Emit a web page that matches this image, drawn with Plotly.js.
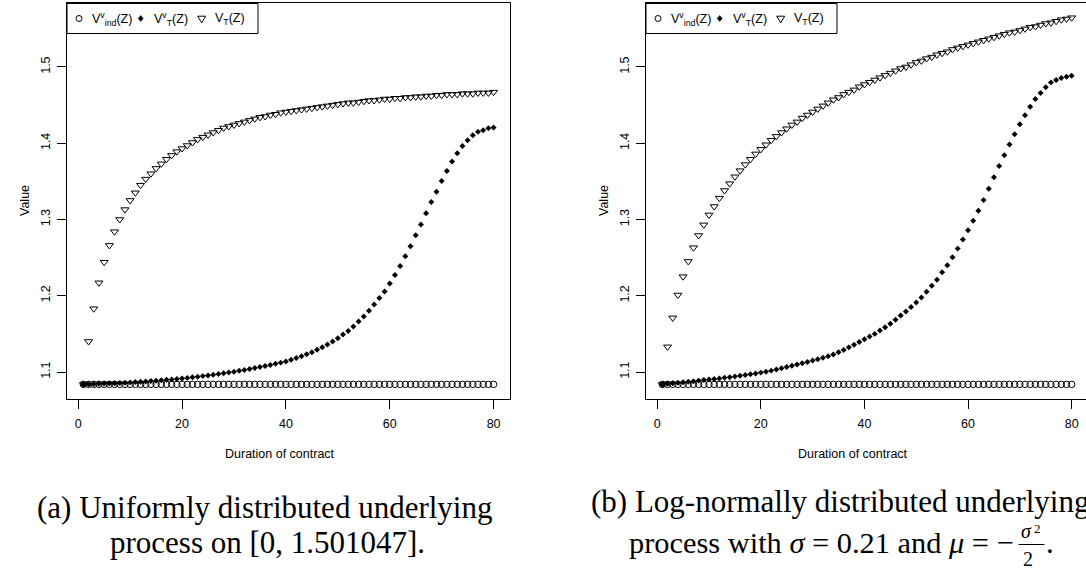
<!DOCTYPE html>
<html>
<head>
<meta charset="utf-8">
<script src="https://cdn.plot.ly/plotly-3.0.1.min.js"></script>
<style>
html, body { margin: 0; padding: 0; background: #ffffff; }
#chart { width: 1086px; height: 569px; }
</style>
</head>
<body>
<div id="chart"></div>
<script>
// ---------------- data ----------------
const durations = [1,2,3,4,5,6,7,8,9,10,11,12,13,14,15,16,17,18,19,20,
  21,22,23,24,25,26,27,28,29,30,31,32,33,34,35,36,37,38,39,40,
  41,42,43,44,45,46,47,48,49,50,51,52,53,54,55,56,57,58,59,60,
  61,62,63,64,65,66,67,68,69,70,71,72,73,74,75,76,77,78,79,80];

// (a) uniformly distributed underlying process
const uniformVind = [1.0838,1.0838,1.0838,1.0838,1.0838,1.0838,1.0838,1.0838,1.0838,1.0838,
  1.0838,1.0838,1.0838,1.0838,1.0838,1.0838,1.0838,1.0838,1.0838,1.0838,
  1.0838,1.0838,1.0838,1.0838,1.0838,1.0838,1.0838,1.0838,1.0838,1.0838,
  1.0838,1.0838,1.0838,1.0838,1.0838,1.0838,1.0838,1.0838,1.0838,1.0838,
  1.0838,1.0838,1.0838,1.0838,1.0838,1.0838,1.0838,1.0838,1.0838,1.0838,
  1.0838,1.0838,1.0838,1.0838,1.0838,1.0838,1.0838,1.0838,1.0838,1.0838,
  1.0838,1.0838,1.0838,1.0838,1.0838,1.0838,1.0838,1.0838,1.0838,1.0838,
  1.0838,1.0838,1.0838,1.0838,1.0838,1.0838,1.0838,1.0838,1.0838,1.0838];
const uniformVTv = [1.0838,1.0840,1.0842,1.0845,1.0848,1.0851,1.0854,1.0857,1.0860,1.0864,
  1.0868,1.0872,1.0876,1.0881,1.0886,1.0891,1.0897,1.0903,1.0909,1.0916,
  1.0923,1.0930,1.0938,1.0946,1.0955,1.0964,1.0973,1.0983,1.0993,1.1004,
  1.1015,1.1027,1.1039,1.1052,1.1065,1.1079,1.1093,1.1108,1.1123,1.1139,
  1.1160,1.1183,1.1207,1.1232,1.1259,1.1291,1.1325,1.1361,1.1400,1.1443,
  1.1491,1.1539,1.1596,1.1662,1.1728,1.1803,1.1886,1.1969,1.2057,1.2162,
  1.2272,1.2390,1.2518,1.2649,1.2794,1.2934,1.3083,1.3228,1.3364,1.3504,
  1.3636,1.3759,1.3868,1.3965,1.4039,1.4105,1.4149,1.4171,1.4197,1.4206];
const uniformVT = [1.0838,1.140,1.183,1.217,1.244,1.266,1.284,1.300,1.313,1.325,
  1.335,1.345,1.353,1.360,1.367,1.373,1.379,1.384,1.389,1.393,
  1.397,1.401,1.405,1.408,1.411,1.414,1.417,1.420,1.422,1.424,
  1.426,1.428,1.430,1.432,1.434,1.435,1.437,1.438,1.440,1.441,
  1.442,1.443,1.444,1.445,1.446,1.447,1.448,1.449,1.450,1.451,
  1.452,1.453,1.453,1.454,1.455,1.456,1.456,1.457,1.458,1.458,
  1.459,1.459,1.460,1.460,1.461,1.461,1.462,1.462,1.463,1.463,
  1.464,1.464,1.464,1.465,1.465,1.465,1.466,1.466,1.466,1.467];

// (b) log-normally distributed underlying process
const lognormVind = [1.0838,1.0838,1.0838,1.0838,1.0838,1.0838,1.0838,1.0838,1.0838,1.0838,
  1.0838,1.0838,1.0838,1.0838,1.0838,1.0838,1.0838,1.0838,1.0838,1.0838,
  1.0838,1.0838,1.0838,1.0838,1.0838,1.0838,1.0838,1.0838,1.0838,1.0838,
  1.0838,1.0838,1.0838,1.0838,1.0838,1.0838,1.0838,1.0838,1.0838,1.0838,
  1.0838,1.0838,1.0838,1.0838,1.0838,1.0838,1.0838,1.0838,1.0838,1.0838,
  1.0838,1.0838,1.0838,1.0838,1.0838,1.0838,1.0838,1.0838,1.0838,1.0838,
  1.0838,1.0838,1.0838,1.0838,1.0838,1.0838,1.0838,1.0838,1.0838,1.0838,
  1.0838,1.0838,1.0838,1.0838,1.0838,1.0838,1.0838,1.0838,1.0838,1.0838];
const lognormVTv = [1.0838,1.0845,1.0852,1.0859,1.0866,1.0873,1.0880,1.0887,1.0894,1.0901,
  1.0908,1.0916,1.0924,1.0932,1.0941,1.0950,1.0960,1.0970,1.0981,1.0992,
  1.1003,1.1018,1.1033,1.1049,1.1065,1.1081,1.1098,1.1115,1.1132,1.1150,
  1.1168,1.1187,1.1206,1.1230,1.1258,1.1290,1.1323,1.1358,1.1394,1.1431,
  1.1466,1.1500,1.1543,1.1588,1.1632,1.1684,1.1741,1.1793,1.1851,1.1912,
  1.1978,1.2053,1.2132,1.2211,1.2307,1.2399,1.2504,1.2618,1.2737,1.2859,
  1.2983,1.3114,1.3254,1.3404,1.3553,1.3701,1.3842,1.3983,1.4118,1.4250,
  1.4368,1.4478,1.4579,1.4658,1.4733,1.4798,1.4829,1.4855,1.4873,1.4886];
const lognormVT = [1.0838,1.133,1.171,1.201,1.225,1.245,1.263,1.279,1.293,1.306,
  1.317,1.328,1.338,1.347,1.356,1.364,1.372,1.379,1.386,1.392,
  1.398,1.404,1.409,1.414,1.419,1.424,1.428,1.433,1.437,1.441,
  1.445,1.449,1.453,1.457,1.460,1.464,1.467,1.470,1.474,1.477,
  1.480,1.483,1.486,1.489,1.492,1.495,1.498,1.500,1.503,1.506,
  1.508,1.511,1.513,1.516,1.518,1.520,1.523,1.525,1.527,1.529,
  1.531,1.533,1.535,1.537,1.539,1.541,1.543,1.545,1.546,1.548,
  1.550,1.552,1.553,1.555,1.557,1.558,1.560,1.562,1.563,1.5646];

const xTickVals = [0, 20, 40, 60, 80];
const xTickText = ['0', '20', '40', '60', '80'];
const yTickVals = [1.1, 1.2, 1.3, 1.4, 1.5];
const yTickText = ['1.1', '1.2', '1.3', '1.4', '1.5'];
const seriesNames = ['V<sup>v</sup><sub>ind</sub>(Z)', 'V<sup>v</sup><sub>T</sub>(Z)', 'V<sub>T</sub>(Z)'];
const xTitle = 'Duration of contract';
const yTitle = 'Value';
const captionA = ['(a) Uniformly distributed underlying', 'process on [0, 1.501047].'];
const captionB = ['(b) Log-normally distributed underlying', 'process with <i>σ</i> = 0.21 and <i>μ</i> = −'];
const fractionNum = '<i>σ</i>';
const fractionNumPower = '2';
const fractionDen = '2';

// ---------------- layout helpers ----------------
const W = 1086, H = 569;
const fx = p => p / W;          // pixel x -> paper
const fy = p => 1 - p / H;      // pixel y -> paper
const black = '#000000';
const sansFont = 'Liberation Sans, Arial, Helvetica, sans-serif';
const serifFont = 'Liberation Serif, Times New Roman, serif';

const circleStyle = { symbol: 'circle-open', size: 6.5, color: black, line: { color: black, width: 1 } };
const diamondStyle = { symbol: 'diamond', size: 4.6, color: black, line: { color: black, width: 0 } };
const triangleStyle = { symbol: 'triangle-down-open', size: 7, color: black, line: { color: black, width: 1 } };

function panelTraces(vind, vtv, vt, xa, ya) {
  return [
    { x: durations, y: vind, type: 'scatter', mode: 'markers', name: seriesNames[0], xaxis: xa, yaxis: ya, marker: circleStyle, showlegend: false },
    { x: durations, y: vtv, type: 'scatter', mode: 'markers', name: seriesNames[1], xaxis: xa, yaxis: ya, marker: diamondStyle, showlegend: false },
    { x: durations, y: vt, type: 'scatter', mode: 'markers', name: seriesNames[2], xaxis: xa, yaxis: ya, marker: triangleStyle, showlegend: false }
  ];
}

const data = [].concat(
  panelTraces(uniformVind, uniformVTv, uniformVT, 'x', 'y'),
  panelTraces(lognormVind, lognormVTv, lognormVT, 'x2', 'y2')
);

const commonX = {
  tickmode: 'array', tickvals: xTickVals, ticktext: xTickText,
  ticks: 'outside', ticklen: 9, tickwidth: 1, tickcolor: black,
  showline: true, linecolor: black, linewidth: 1,
  showgrid: false, zeroline: false,
  tickfont: { family: sansFont, size: 12.5, color: black },
  ticklabelstandoff: 4, fixedrange: true
};
const commonY = {
  tickmode: 'array', tickvals: yTickVals, ticktext: yTickText, tickangle: -90,
  ticks: 'outside', ticklen: 9, tickwidth: 1, tickcolor: black,
  showline: true, linecolor: black, linewidth: 1,
  showgrid: false, zeroline: false,
  tickfont: { family: sansFont, size: 12.5, color: black },
  ticklabelstandoff: 2,
  range: [1.0646, 1.5839], domain: [fy(399), fy(3)], fixedrange: true
};

const panels = [
  { left: 67, xTitleX: 279.5, yTitleX: 25 },
  { left: 646, xTitleX: 853, yTitleX: 604 }
];

const shapes = [];
const annotations = [];

panels.forEach(p => {
  const L = p.left;
  // legend box
  shapes.push({ type: 'rect', xref: 'paper', yref: 'paper', x0: fx(L), x1: fx(L + 191), y0: fy(3.5), y1: fy(33.5),
    line: { color: black, width: 1 }, fillcolor: '#ffffff', layer: 'above' });
  // legend symbols
  shapes.push({ type: 'circle', xref: 'paper', yref: 'paper', xsizemode: 'pixel', ysizemode: 'pixel',
    xanchor: fx(L + 12), yanchor: fy(18.5), x0: -3, x1: 3, y0: -3, y1: 3, line: { color: black, width: 1 }, layer: 'above' });
  shapes.push({ type: 'path', xref: 'paper', yref: 'paper', xsizemode: 'pixel', ysizemode: 'pixel',
    xanchor: fx(L + 73.7), yanchor: fy(18.5), path: 'M 0 3 L 2.5 0 L 0 -3 L -2.5 0 Z',
    fillcolor: black, line: { color: black, width: 0.5 }, layer: 'above' });
  shapes.push({ type: 'path', xref: 'paper', yref: 'paper', xsizemode: 'pixel', ysizemode: 'pixel',
    xanchor: fx(L + 134.7), yanchor: fy(18.5), path: 'M -4 2.3 L 4 2.3 L 0 -4.4 Z',
    line: { color: black, width: 1 }, layer: 'above' });
  // legend texts
  [[L + 23, seriesNames[0]], [L + 85, seriesNames[1]], [L + 145.5, seriesNames[2]]].forEach(t => {
    annotations.push({ xref: 'paper', yref: 'paper', x: fx(t[0]), y: fy(19), xanchor: 'left', yanchor: 'middle',
      text: t[1], showarrow: false, font: { family: sansFont, size: 12.5, color: black } });
  });
  // axis titles
  annotations.push({ xref: 'paper', yref: 'paper', x: fx(p.xTitleX), y: fy(454), xanchor: 'center', yanchor: 'middle',
    text: xTitle, showarrow: false, font: { family: sansFont, size: 12.5, color: black } });
  annotations.push({ xref: 'paper', yref: 'paper', x: fx(p.yTitleX), y: fy(201), xanchor: 'center', yanchor: 'middle',
    text: yTitle, textangle: -90, showarrow: false, font: { family: sansFont, size: 12.5, color: black } });
});

// captions
annotations.push({ xref: 'paper', yref: 'paper', x: fx(264), y: fy(507.5), xanchor: 'center', yanchor: 'middle',
  text: captionA[0], showarrow: false, font: { family: serifFont, size: 31, color: black } });
annotations.push({ xref: 'paper', yref: 'paper', x: fx(267), y: fy(542.5), xanchor: 'center', yanchor: 'middle',
  text: captionA[1], showarrow: false, font: { family: serifFont, size: 31, color: black } });
annotations.push({ xref: 'paper', yref: 'paper', x: fx(589), y: fy(501.5), xanchor: 'left', yanchor: 'middle',
  text: captionB[0], showarrow: false, font: { family: serifFont, size: 31, color: black } });
annotations.push({ xref: 'paper', yref: 'paper', x: fx(1016), y: fy(542.5), xanchor: 'right', yanchor: 'middle',
  text: captionB[1], showarrow: false, font: { family: serifFont, size: 30.4, color: black } });
// fraction  sigma^2 / 2
annotations.push({ xref: 'paper', yref: 'paper', x: fx(1026.5), y: fy(543.5), xanchor: 'center', yanchor: 'bottom',
  text: fractionNum, showarrow: false, font: { family: serifFont, size: 20, color: black } });
annotations.push({ xref: 'paper', yref: 'paper', x: fx(1032.3), y: fy(528.5), xanchor: 'left', yanchor: 'middle',
  text: fractionNumPower, showarrow: false, font: { family: serifFont, size: 13, color: black } });
annotations.push({ xref: 'paper', yref: 'paper', x: fx(1027.5), y: fy(545.5), xanchor: 'center', yanchor: 'top',
  text: fractionDen, showarrow: false, font: { family: serifFont, size: 20, color: black } });
annotations.push({ xref: 'paper', yref: 'paper', x: fx(1049.5), y: fy(542.5), xanchor: 'center', yanchor: 'middle',
  text: '.', showarrow: false, font: { family: serifFont, size: 31, color: black } });
shapes.push({ type: 'line', xref: 'paper', yref: 'paper', x0: fx(1018.5), x1: fx(1044.5), y0: fy(544.5), y1: fy(544.5),
  line: { color: black, width: 1 } });

const layout = {
  width: W, height: H,
  margin: { l: 0, r: 0, t: 0, b: 0, pad: 0 },
  paper_bgcolor: '#ffffff', plot_bgcolor: '#ffffff',
  font: { family: sansFont, color: black },
  showlegend: false,
  xaxis: Object.assign({}, commonX, { domain: [fx(67), fx(510)], range: [-2.16, 83.16], anchor: 'y', mirror: true }),
  yaxis: Object.assign({}, commonY, { anchor: 'x', mirror: true }),
  xaxis2: Object.assign({}, commonX, { domain: [fx(646), 1], range: [-2.16, 82.77], anchor: 'y2', mirror: true }),
  yaxis2: Object.assign({}, commonY, { anchor: 'x2', mirror: false }),
  shapes: shapes,
  annotations: annotations
};

Plotly.newPlot('chart', data, layout, { displayModeBar: false, staticPlot: true });
</script>
</body>
</html>
